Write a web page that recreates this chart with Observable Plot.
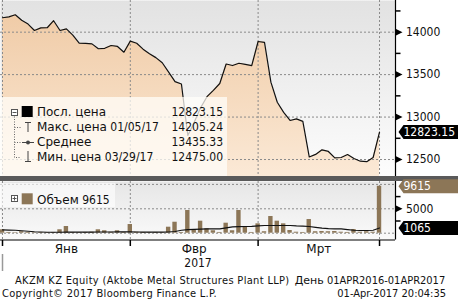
<!DOCTYPE html>
<html><head><meta charset="utf-8">
<script src="https://cdn.jsdelivr.net/npm/d3@7"></script>
<script src="https://cdn.jsdelivr.net/npm/@observablehq/plot@0.6"></script>
<style>
html,body{margin:0;padding:0;background:#fff;}
#wrap{position:relative;width:458px;height:301px;overflow:hidden;background:#fff;}
#wrap > svg{position:absolute;left:0;}
#sep{position:absolute;left:0;top:175.5px;width:458px;height:5px;background:#5a5a5a;}
</style></head><body><div id="wrap"></div>
<script>
// ---- data (trading days, Jan–Mar 2017) ----
const monthLabels = ["Янв", "Фвр", "Мрт"];
const yearLabel = "2017";
const monthEnds = [0, 20, 40, 59];
const monthMids = [10, 30, 49.5];
const price = [14170,14180,14205.24,14140,14095,14020,14050,14052,14135,14020,
  14038,13965,13870,13868,13862,13805,13810,13843,13832,13764,
  13894,13870,13800,13745,13700,13640,13530,13418,13390,12783,
  12940,13110,13240,13315,13395,13625,13607,13634,13620,13607,
  13890,13880,13411,13175,13055,12960,12978,12950,12530,12560,
  12614,12595,12520,12524,12559,12512,12480,12475.00,12524,12823.15];
const volume = [700,150,100,300,150,100,150,100,150,700,
  1370,150,100,150,200,700,500,200,500,150,
  1780,200,150,100,150,100,1230,2250,150,4650,
  700,2460,900,500,150,2050,500,4650,1230,150,
  1920,300,3420,2460,1920,550,200,150,2800,300,
  350,300,350,200,150,760,200,300,200,9615];
const volumeMA = [700,650,600,500,400,300,250,200,200,200,
  220,220,220,230,240,250,250,250,260,260,
  280,250,230,220,220,230,250,350,600,750,
  800,850,900,900,900,1100,1300,1350,1370,1400,
  1500,1580,1580,1580,1580,1580,1500,1450,1370,1200,
  1050,950,900,880,750,600,550,550,600,1065];
const priceTicks = [12500, 13000, 13500, 14000];
const priceMinorTicks = [12750, 13250, 13750, 14250];
const volumeGrid = [0, 5000, 10000];
const volumeTicks = [5000];
const volumeMinorTicks = [2500, 7500];
const legendLabels = ["Посл. цена", "Макс. цена", "Среднее", "Мин. цена"];
const legendDates = ["", "01/05/17", "", "03/29/17"];
const legendValues = ["12823.15", "14205.24", "13435.33", "12475.00"];
const volumeLegendLabel = "Объем";
const footerTitle = "AKZM KZ Equity (Aktobe Metal Structures Plant LLP)";
const footerPeriodWord = "День";
const footerPeriod = "01APR2016-01APR2017";
const footerCopyright = "Copyright© 2017 Bloomberg Finance L.P.";
const footerStamp = "01-Apr-2017 20:04:35";

// ---- styling ----
const COND = "'DejaVu Sans Condensed', 'DejaVu Sans', sans-serif";
const SANS = "'DejaVu Sans', sans-serif";
const GRID = {stroke: "#8a8a8a", strokeDasharray: "2,2", strokeWidth: 1};
const BROWN = "#8c7657";
const xDomain = [-0.313, 61.5];
const priceDomain = [12300, 14373];
const volDomain = [-1393, 10594];

const tri = {draw(c){ c.moveTo(0,-3.5); c.lineTo(7,0); c.lineTo(0,3.5); c.closePath(); }};
const hTick = {draw(c){ c.moveTo(0,0); c.lineTo(5,0); }};
const tag = {draw(c){ c.moveTo(3,0); c.lineTo(8,-7); c.lineTo(63,-7); c.lineTo(63,7); c.lineTo(8,7); c.closePath(); }};
const vTick = {draw(c){ c.moveTo(0,0); c.lineTo(0,6); }};
const yearTick = {draw(c){ c.moveTo(0,14); c.lineTo(0,31); }};

const wrap = document.getElementById("wrap");

// gradient defs
wrap.insertAdjacentHTML("beforeend", `<svg width="0" height="0" style="position:absolute"><defs>
<linearGradient id="bgPrice" gradientUnits="userSpaceOnUse" x1="0" y1="0" x2="0" y2="176"><stop offset="0" stop-color="#e2e2e2"/><stop offset="1" stop-color="#fdfdfd"/></linearGradient>
<linearGradient id="gArea" gradientUnits="userSpaceOnUse" x1="0" y1="0" x2="0" y2="176"><stop offset="0" stop-color="#efc9a3"/><stop offset="1" stop-color="#fbe9d6"/></linearGradient>
<linearGradient id="bgVol" gradientUnits="userSpaceOnUse" x1="0" y1="0" x2="0" y2="58.5"><stop offset="0" stop-color="#e6e6e6"/><stop offset="1" stop-color="#fafafa"/></linearGradient>
</defs></svg>`);

const rows = price.map((v, i) => ({i, v}));
const last = rows[rows.length - 1];

const pricePlot = Plot.plot({
  width: 458, height: 176,
  marginLeft: 0, marginRight: 63, marginTop: 0, marginBottom: 0,
  x: {domain: xDomain, axis: null},
  y: {domain: priceDomain, axis: null},
  style: {fontFamily: COND, fontSize: "12px", background: "transparent", overflow: "visible"},
  marks: [
    Plot.frame({fill: "url(#bgPrice)", stroke: null}),
    Plot.areaY(rows, {x: "i", y1: priceDomain[0], y2: "v", fill: "url(#gArea)"}),
    Plot.ruleY(priceTicks, GRID),
    Plot.ruleX(monthEnds, GRID),
    Plot.lineY(rows, {x: "i", y: "v", stroke: "#111", strokeWidth: 1.2}),
    Plot.ruleX([xDomain[1]], {stroke: "#000", strokeWidth: 1.2}),
    Plot.dot(priceMinorTicks, {y: d => d, frameAnchor: "right", symbol: hTick, stroke: "#000", fill: "none"}),
    Plot.dot(priceTicks, {y: d => d, frameAnchor: "right", symbol: tri, fill: "#000", stroke: "none"}),
    Plot.text(priceTicks, {y: d => d, frameAnchor: "right", lineAnchor: "middle", dx: 10.5, textAnchor: "start", text: d => String(d), fill: "#111"}),
    Plot.dot([last], {y: "v", frameAnchor: "right", symbol: tag, fill: "#000", stroke: "none"}),
    Plot.text([last], {y: "v", frameAnchor: "right", lineAnchor: "middle", dx: 8, textAnchor: "start", text: d => d.v.toFixed(2), fill: "#fff"})
  ]
});
pricePlot.style.top = "0px";
wrap.appendChild(pricePlot);

const sep = document.createElement("div"); sep.id = "sep"; wrap.appendChild(sep);

const vrows = volume.map((v, i) => ({i, v, ma: volumeMA[i]}));
const vlast = vrows[vrows.length - 1];
const volPlot = Plot.plot({
  width: 458, height: 95,
  marginLeft: 0, marginRight: 63, marginTop: 0, marginBottom: 36.5,
  x: {domain: xDomain, axis: null},
  y: {domain: volDomain, axis: null},
  style: {fontFamily: COND, fontSize: "12px", background: "transparent", overflow: "visible"},
  marks: [
    Plot.frame({fill: "url(#bgVol)", stroke: null}),
    Plot.ruleY(volumeGrid, GRID),
    Plot.ruleX(monthEnds, GRID),
    Plot.rectY(vrows, {x1: d => d.i - 0.5, x2: d => d.i + 0.5, y: "v", insetLeft: 1, insetRight: 1, fill: BROWN}),
    Plot.lineY(vrows, {x: "i", y: "ma", stroke: "#111", strokeWidth: 1.2}),
    Plot.ruleX([xDomain[1]], {stroke: "#000", strokeWidth: 1.2}),
    Plot.ruleY([volDomain[0]], {stroke: "#000", strokeWidth: 1.2}),
    Plot.dot([monthEnds[0]], {x: d => d, frameAnchor: "bottom", symbol: yearTick, stroke: "#999", fill: "none"}),
    Plot.dot(monthEnds, {x: d => d, frameAnchor: "bottom", symbol: vTick, stroke: "#000", fill: "none"}),
    Plot.text(monthMids, {x: d => d, frameAnchor: "bottom", lineAnchor: "middle", dy: 9.2, text: (d, i) => monthLabels[i], fontFamily: SANS, fill: "#111"}),
    Plot.text([yearLabel], {frameAnchor: "bottom", lineAnchor: "middle", dy: 23.4, text: d => d, fill: "#111"}),
    Plot.dot(volumeMinorTicks, {y: d => d, frameAnchor: "right", symbol: hTick, stroke: "#000", fill: "none"}),
    Plot.dot(volumeTicks, {y: d => d, frameAnchor: "right", symbol: tri, fill: "#000", stroke: "none"}),
    Plot.text(volumeTicks, {y: d => d, frameAnchor: "right", lineAnchor: "middle", dx: 10.5, textAnchor: "start", text: d => String(d), fill: "#111"}),
    Plot.dot([vlast], {y: "v", frameAnchor: "right", symbol: tag, fill: BROWN, stroke: "none"}),
    Plot.text([vlast], {y: "v", frameAnchor: "right", lineAnchor: "middle", dx: 8, textAnchor: "start", text: d => String(d.v), fill: "#fff"}),
    Plot.dot([vlast], {y: "ma", frameAnchor: "right", symbol: tag, fill: "#000", stroke: "none"}),
    Plot.text([vlast], {y: "ma", frameAnchor: "right", lineAnchor: "middle", dx: 8, textAnchor: "start", text: d => String(d.ma), fill: "#fff"})
  ]
});
volPlot.style.top = "181px";
wrap.appendChild(volPlot);

// ---- legend + footer overlay ----
const base = [116.2, 131, 145.8, 160.6];
let legendRows = "";
legendLabels.forEach((lab, k) => {
  const date = legendDates[k] ? `<tspan font-family="${COND}"> ${legendDates[k]}</tspan>` : "";
  legendRows += `<text x="37" y="${base[k]}" font-family="${SANS}">${lab}${date}</text>`;
  legendRows += `<text x="223" y="${base[k]}" text-anchor="end" font-family="${COND}">${legendValues[k]}</text>`;
});
wrap.insertAdjacentHTML("beforeend", `<svg width="458" height="301" style="top:0;pointer-events:none" font-size="12" fill="#111">
<rect x="0" y="97" width="227" height="79" fill="rgba(255,253,250,0.74)"/>
<g stroke="#555" stroke-width="1" fill="none">
  <path d="M14.5,116.5V157.5H20.5M14.5,127.5H20.5M14.5,142.5H20.5" stroke-dasharray="1,1.5" stroke="#666"/>
  <rect x="11.5" y="109.5" width="6" height="6" fill="#fff"/>
  <path d="M12.5,112.5H16.5"/>
  <path d="M25,122.5H31M28,122.5V132" stroke="#444"/>
  <path d="M22,142.5H34" stroke="#444"/>
  <path d="M28,151V161M25,161.5H31" stroke="#444"/>
</g>
<circle cx="28" cy="142.5" r="2" fill="#444"/>
<rect x="21.7" y="106" width="11" height="11" fill="#000"/>
${legendRows}
<rect x="0" y="183" width="115" height="24" fill="rgba(255,255,255,0.62)"/>
<g stroke="#555" fill="none"><rect x="11.5" y="195.5" width="6" height="6" fill="#fff"/><path d="M12.5,198.5H16.5M14.5,196.5V200.5"/></g>
<rect x="21.7" y="193.3" width="11" height="11" fill="${BROWN}"/>
<text x="37" y="203.8"><tspan font-family="${SANS}">${volumeLegendLabel}</tspan><tspan font-family="${COND}"> ${vlast.v}</tspan></text>
<g font-size="11">
<text x="15" y="283.8" font-family="${COND}" letter-spacing="0.33">${footerTitle}</text>
<text x="294.7" y="283.8"><tspan font-family="${SANS}">${footerPeriodWord}</tspan><tspan font-family="${COND}"> ${footerPeriod}</tspan></text>
<text x="2" y="296.8" font-family="${COND}" letter-spacing="0.3">${footerCopyright}</text>
<text x="446" y="296.8" text-anchor="end" font-family="${COND}">${footerStamp}</text>
</g>
</svg>`);
</script></body></html>
